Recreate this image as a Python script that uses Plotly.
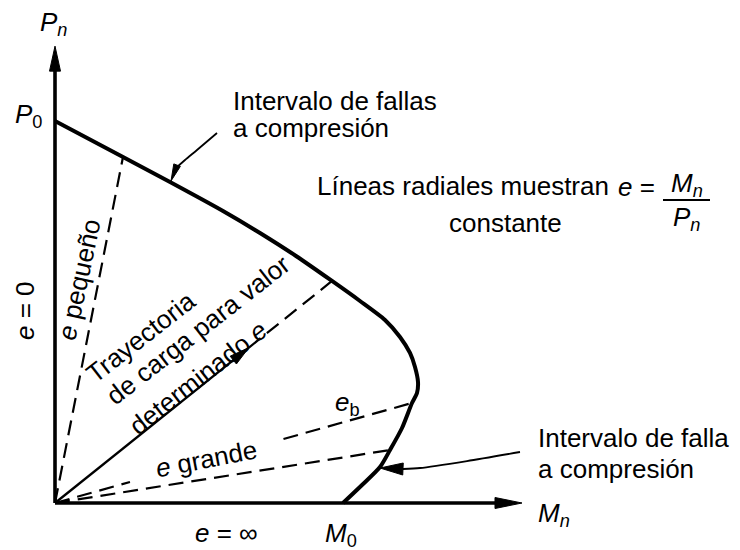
import plotly.graph_objects as go
import math

# ---------------- data (normalised units: M0 = 100, P0 = 100) ----------------
curve_M = [0.0, 23.61, 39.93, 58.33, 71.18, 83.68, 96.18, 105.90, 114.58, 119.79,
           123.26, 125.00, 126.04, 125.69, 123.96, 120.49, 116.32, 112.85, 106.60, 100.0]
curve_P = [100.0, 90.58, 84.03, 76.44, 70.68, 64.66, 58.12, 52.88, 47.91, 43.46,
           39.27, 35.60, 31.68, 28.80, 26.18, 19.63, 13.87, 9.42, 4.71, 0.0]

axis_P_top = 119.6      # end of the Pn axis
axis_M_end = 162.15     # end of the Mn axis

# radial lines: end point on the curve
radial_names = ["e pequeño", "trayectoria", "e_b", "e grande"]
radial_M = [23.61, 96.18, 123.96, 116.32]
radial_P = [90.58, 58.12, 26.18, 13.87]
traj_arrow_frac = 0.70

# leader curves
lead_top_M = [56.25, 49.31, 45.14, 42.01, 40.28]
lead_top_P = [96.86, 92.41, 89.79, 87.70, 84.29]
lead_bot_M = [161.46, 143.06, 126.74, 120.83, 112.85]
lead_bot_P = [13.35, 10.99, 9.16, 8.90, 9.16]

# ---------------- layout geometry ----------------
W, H = 740, 550
OFF = 8                      # page body margin
ORIGIN = (55 - OFF, 503 - OFF)
SX, SY = 2.88, 3.82          # pixels per unit
XR = [-ORIGIN[0] / SX, (W - ORIGIN[0]) / SX]
YR = [-(H - ORIGIN[1]) / SY, ORIGIN[1] / SY]
FONT = "Liberation Sans, Arial, Helvetica, sans-serif"
FS = 26
BLACK = "#000000"

fig = go.Figure()


def line(xs, ys, width, dash="solid", shape="linear"):
    fig.add_trace(go.Scatter(x=xs, y=ys, mode="lines",
                             line=dict(color=BLACK, width=width, dash=dash, shape=shape,
                                       smoothing=0.7),
                             hoverinfo="skip", showlegend=False))


def arrowhead(xp, yp, xt, yt, length, width):
    dx, dy = (xt - xp) * SX, (yt - yp) * SY
    n = math.hypot(dx, dy)
    ux, uy = dx / n, dy / n
    bx, by = -ux * length, -uy * length
    px_, py_ = -uy * width / 2, ux * width / 2
    xs = [xt, xt + (bx + px_) / SX, xt + (bx - px_) / SX, xt]
    ys = [yt, yt + (by + py_) / SY, yt + (by - py_) / SY, yt]
    fig.add_trace(go.Scatter(x=xs, y=ys, mode="lines", fill="toself",
                             fillcolor=BLACK, line=dict(color=BLACK, width=1),
                             hoverinfo="skip", showlegend=False))


# axes
line([0, 0], [0, axis_P_top - 5], 3.6)
arrowhead(0, 0, 0, axis_P_top, 25, 11)
line([0, axis_M_end - 5], [0, 0], 3.6)
arrowhead(0, 0, axis_M_end, 0, 27, 11)

# interaction curve
line(curve_M, curve_P, 4, shape="spline")

DASH = "15px,8px"
# e pequeño
line([0, radial_M[0]], [0, radial_P[0]], 2.2, DASH)
# trajectory
tx, ty = radial_M[1] * traj_arrow_frac, radial_P[1] * traj_arrow_frac
line([0, tx], [0, ty], 2.3)
arrowhead(0, 0, tx, ty, 20, 10)
line([tx, radial_M[1]], [ty, radial_P[1]], 2.2, DASH)
# e_b (interrupted by the "e grande" label)
for f0, f1 in [(0.0, 0.21), (0.64, 1.0)]:
    line([radial_M[2] * f0, radial_M[2] * f1], [radial_P[2] * f0, radial_P[2] * f1], 2.2, DASH)
# e grande
line([0, radial_M[3]], [0, radial_P[3]], 2.2, DASH)

# leaders
line(lead_top_M[:-1], lead_top_P[:-1], 1.8, shape="spline")
arrowhead(lead_top_M[-2], lead_top_P[-2], lead_top_M[-1], lead_top_P[-1], 17, 7)
line(lead_bot_M[:-1], lead_bot_P[:-1], 1.8, shape="spline")
arrowhead(lead_bot_M[-2], lead_bot_P[-2], lead_bot_M[-1], lead_bot_P[-1], 23, 12)


def P(px, py):
    return (px - OFF) / W, 1 - (py - OFF) / H


annotations = []


def text(t, px, py, xanchor="center", angle=0, size=FS):
    x, y = P(px, py)
    annotations.append(dict(text=t, x=x, y=y, xref="paper", yref="paper",
                            xanchor=xanchor, yanchor="middle", showarrow=False,
                            textangle=angle, font=dict(family=FONT, size=size, color=BLACK)))


text("<i>P<sub>n</sub></i>", 53, 24)
text("<i>P</i><sub>0</sub>", 28, 116)
text("Intervalo de fallas", 231, 101, "left")
text("a compresión", 231, 128, "left")
text("Líneas radiales muestran", 315, 186, "left")
text("<i>e</i> =", 616, 187, "left")
text("<i>M<sub>n</sub></i>", 687, 184)
text("<i>P<sub>n</sub></i>", 686, 218)
text("constante", 505, 223)
text("<i>e</i> = 0", 25, 311, angle=-90)
text("<i>e</i> pequeño", 79, 280, angle=-78)
text("Trayectoria", 141, 337, angle=-38)
text("de carga para valor", 198, 330, angle=-38)
text("determinado <i>e</i>", 198, 378, angle=-38)
text("<i>e</i><sub>b</sub>", 347, 403)
text("<i>e</i> grande", 206, 459, angle=-11)
text("<i>e</i> = ∞", 226, 533)
text("<i>M</i><sub>0</sub>", 341, 534)
text("<i>M<sub>n</sub></i>", 554, 514)
text("Intervalo de falla", 536, 438, "left")
text("a compresión", 536, 469, "left")

fb0, fb1 = P(663, 200), P(710, 200)
fig.update_layout(
    width=W, height=H,
    margin=dict(l=0, r=0, t=0, b=0),
    paper_bgcolor="white", plot_bgcolor="white",
    xaxis=dict(range=XR, visible=False, fixedrange=True),
    yaxis=dict(range=YR, visible=False, fixedrange=True),
    annotations=annotations,
    shapes=[dict(type="line", xref="paper", yref="paper", x0=fb0[0], y0=fb0[1],
                 x1=fb1[0], y1=fb1[1], line=dict(color=BLACK, width=2))],
    showlegend=False,
)

fig.write_html("out.html")
